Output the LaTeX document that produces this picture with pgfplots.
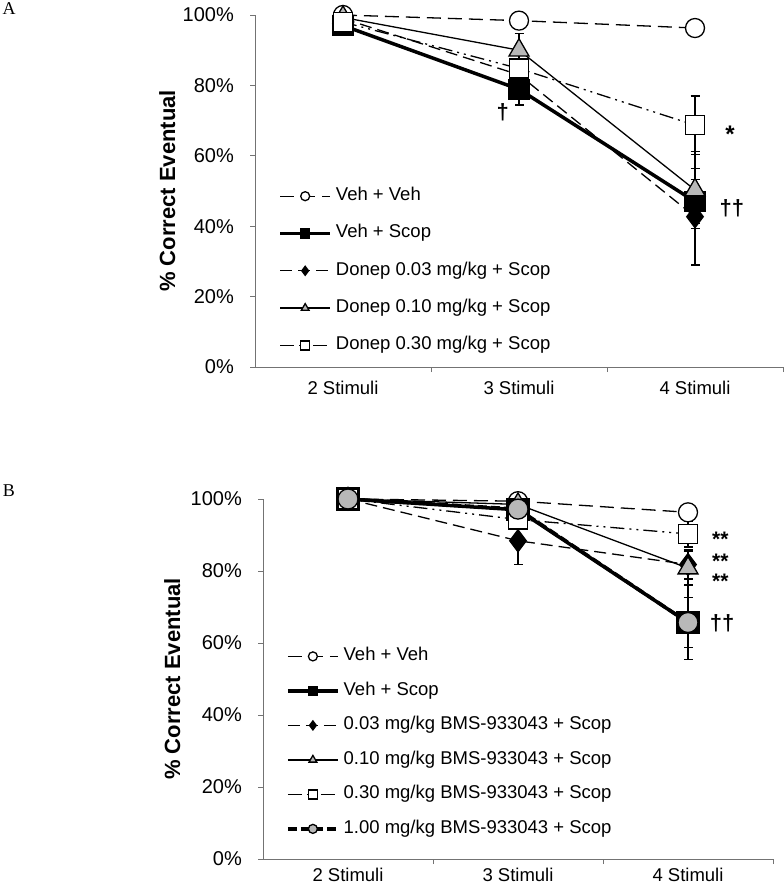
\documentclass[border=0pt]{standalone}
\usepackage{fontspec}
\setmainfont{Liberation Sans}
\newfontfamily\seriffont{Liberation Serif}
\usepackage{pgfplots}
\pgfplotsset{compat=1.18}
\definecolor{mgray}{gray}{0.72}
\definecolor{axgray}{gray}{0.45}

\pgfplotsset{
  panel/.style={
    scale only axis, clip=false, enlargelimits=false,
    xmin=0.5, xmax=3.5, ymin=0, ymax=100,
    axis x line=bottom, axis y line=left,
    axis line style={-, axgray, line width=1bp},
    xtick={1,2,3}, xticklabels={2 Stimuli,3 Stimuli,4 Stimuli},
    minor xtick={1.5,2.5,3.5},
    major x tick style={draw=none},
    minor x tick style={axgray, line width=1bp},
    y tick style={axgray, line width=1bp},
    tick align=outside,
    major tick length=5bp, minor tick length=5bp,
    ytick={0,20,40,60,80,100},
    yticklabels={0\%,20\%,40\%,60\%,80\%,100\%},
    yticklabel style={font=\fontsize{20bp}{22bp}\selectfont, inner sep=0pt, xshift=-16bp},
    ylabel={\% Correct Eventual},
    legend style={draw=none, fill=none, inner sep=0pt, anchor=north west,
      font=\fontsize{18.5bp}{20bp}\selectfont,
      nodes={inner sep=0pt, text height=13bp, text depth=4bp}},
    legend cell align=left,
    legend image code/.code={\draw[mark repeat=2, mark phase=2, ##1, mark size=4.5bp] plot coordinates {(0bp,0bp) (25bp,0bp) (50bp,0bp)}; \path (54bp,0bp);},
    error bars/y dir=both, error bars/y explicit,
    error bars/error bar style={solid, line width=1.3bp, black},
    error bars/error mark options={rotate=90, mark size=4.5bp, line width=1.3bp, black, solid},
  },
  vv/.style={black, line width=1.3bp, dash pattern=on 14bp off 7bp, mark=*, mark size=9.5bp, mark options={solid, fill=white, line width=1.3bp}},
  vs/.style={black, line width=3.5bp, solid, mark=square*, mark size=10bp, mark options={solid, fill=black, line width=1.3bp}},
  dlow/.style={black, line width=1.3bp, dash pattern=on 12bp off 6bp, mark=diamond*, mark size=11bp, mark options={solid, fill=black, line width=1.3bp}},
  dmid/.style={black, line width=1.3bp, solid, mark=triangle*, mark size=11.5bp, mark options={solid, fill=mgray, line width=1.3bp}},
  dhigh/.style={black, line width=1.3bp, dash pattern=on 14bp off 5bp on 2bp off 5bp on 2bp off 5bp, mark=square*, mark size=9.5bp, mark options={solid, fill=white, line width=1.3bp}},
  dtop/.style={black, line width=3.5bp, dash pattern=on 9bp off 4bp, mark=*, mark size=10bp, mark options={solid, fill=mgray, line width=1.3bp}},
}

\begin{document}
\begin{tikzpicture}
\useasboundingbox (0bp,0bp) rectangle (784bp,-888bp);

% Panel A
\begin{axis}[panel, at={(255bp,-367bp)}, anchor=south west, width=528bp, height=352bp,
  xticklabel style={font=\fontsize{18.5bp}{20bp}\selectfont, inner sep=0pt, text height=13bp, yshift=-9bp},
  ylabel style={at={(axis description cs:-0.166,0.5)}, rotate=0, anchor=center, inner sep=0pt, font=\bfseries\fontsize{22bp}{24bp}\selectfont},
  legend style={at={(axis description cs:0.044,0.51)}, row sep=20.3bp}]
\addplot[vv] coordinates {(1,100) +- (0,0) (2,98.4) +- (0,1) (3,96.3) +- (0,1)};
\addlegendentry{Veh + Veh}
\addplot[vs] coordinates {(1,97) +- (0,1.5) (2,78.9) +- (0,4.5) (3,47) +- (0,6.3)};
\addlegendentry{Veh + Scop}
\addplot[dlow] coordinates {(1,99) +- (0,0.5) (2,83) +- (0,4) (3,42.7) +- (0,13.7)};
\addlegendentry{Donep 0.03 mg/kg + Scop}
\addplot[dmid] coordinates {(1,99.3) +- (0,0.5) (2,90) +- (0,4.8) (3,50.3) +- (0,11)};
\addlegendentry{Donep 0.10 mg/kg + Scop}
\addplot[dhigh] coordinates {(1,98) +- (0,1) (2,84.8) +- (0,4) (3,68.7) +- (0,8.3)};
\addlegendentry{Donep 0.30 mg/kg + Scop}
\node[font=\bfseries\fontsize{22bp}{24bp}\selectfont, inner sep=0pt] at (axis cs:1.907,72.5) {†};
\node[font=\bfseries\fontsize{24bp}{26bp}\selectfont, inner sep=0pt] at (axis cs:3.199,66) {*};
\node[font=\bfseries\fontsize{22bp}{24bp}\selectfont, inner sep=0pt] at (axis cs:3.21,45.2) {††};
\end{axis}

% Panel B
\begin{axis}[panel, at={(263bp,-859bp)}, anchor=south west, width=510bp, height=360bp,
  xticklabel style={font=\fontsize{18.5bp}{20bp}\selectfont, inner sep=0pt, text height=13bp, yshift=-4bp},
  ylabel style={at={(axis description cs:-0.178,0.5)}, rotate=0, anchor=center, inner sep=0pt, font=\bfseries\fontsize{22bp}{24bp}\selectfont},
  legend style={at={(axis description cs:0.045,0.587)}, row sep=17.5bp}]
\addplot[vv] coordinates {(1,100) +- (0,0) (2,99.4) +- (0,0.5) (3,96.3) +- (0,1)};
\addlegendentry{Veh + Veh}
\addplot[vs, mark size=11bp] coordinates {(1,100) +- (0,0) (2,97) +- (0,1.5) (3,65.7) +- (0,10.3)};
\addlegendentry{Veh + Scop}
\addplot[dlow] coordinates {(1,100) +- (0,0) (2,88.4) +- (0,6.6) (3,81.8) +- (0,4)};
\addlegendentry{0.03 mg/kg BMS-933043 + Scop}
\addplot[dmid] coordinates {(1,100) +- (0,0) (2,98.5) +- (0,1) (3,80.8) +- (0,4.6)};
\addlegendentry{0.10 mg/kg BMS-933043 + Scop}
\addplot[dhigh] coordinates {(1,100) +- (0,0) (2,94.3) +- (0,2) (3,90.3) +- (0,3.6)};
\addlegendentry{0.30 mg/kg BMS-933043 + Scop}
\addplot[dtop] coordinates {(1,100) +- (0,0) (2,97.2) +- (0,1) (3,65.7) +- (0,7)};
\addlegendentry{1.00 mg/kg BMS-933043 + Scop}
\node[font=\bfseries\fontsize{21bp}{22bp}\selectfont, inner sep=0pt] at (axis cs:3.19,88.8) {**};
\node[font=\bfseries\fontsize{21bp}{22bp}\selectfont, inner sep=0pt] at (axis cs:3.19,82.8) {**};
\node[font=\bfseries\fontsize{21bp}{22bp}\selectfont, inner sep=0pt] at (axis cs:3.19,77.2) {**};
\node[font=\bfseries\fontsize{22bp}{24bp}\selectfont, inner sep=0pt] at (axis cs:3.2,65.6) {††};
\end{axis}

\node[font=\seriffont\fontsize{18bp}{20bp}\selectfont, inner sep=0pt] at (9bp,-9bp) {A};
\node[font=\seriffont\fontsize{18bp}{20bp}\selectfont, inner sep=0pt] at (9bp,-491bp) {B};
\end{tikzpicture}
\end{document}
